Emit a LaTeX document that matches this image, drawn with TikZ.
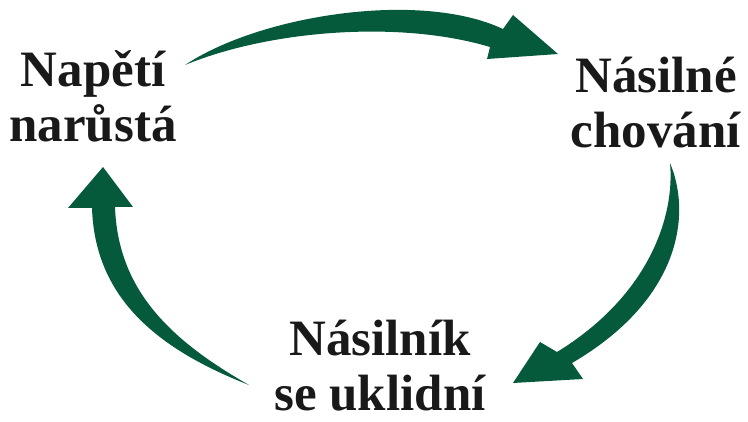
\documentclass[tikz,border=0pt]{standalone}
\usepackage{fontspec}
\setmainfont{Liberation Serif}
\definecolor{arrowgreen}{RGB}{5,90,60}
\begin{document}
\begin{tikzpicture}[x=1pt,y=-1pt,
  lbl/.style={inner sep=0pt, align=center, font=\fontsize{51}{55}\selectfont\bfseries, text=black!90},
  arr/.style={fill=arrowgreen, draw=none}]
\useasboundingbox (0,0) rectangle (748,422);
% labels (base anchor = baseline of last line)
\node[lbl, anchor=base] (tension) at (93,142) {Napětí\\narůstá};
\node[lbl, anchor=base] (violence) at (656,148) {Násilné\\chování};
\node[lbl, anchor=base] (calm) at (380,410) {Násilník\\se uklidní};
% top arrow
\fill[arr] (185,65) .. controls (260,15) and (420,-10) .. (503,29)
  -- (513,15) -- (558,54) -- (487,59) -- (490,47)
  .. controls (400,20) and (270,30) .. (185,65) -- cycle;
% right arrow
\fill[arr] (670,163) .. controls (692,215) and (680,300) .. (572,363)
  -- (583,379) -- (513,383) -- (540,342) -- (557,352)
  .. controls (650,295) and (675,215) .. (670,163) -- cycle;
% left arrow
\fill[arr] (249,385) .. controls (170,340) and (118,290) .. (115,207)
  -- (133,207) -- (103,167) -- (68,208) -- (92,208)
  .. controls (95,300) and (160,350) .. (249,385) -- cycle;
\end{tikzpicture}
\end{document}
